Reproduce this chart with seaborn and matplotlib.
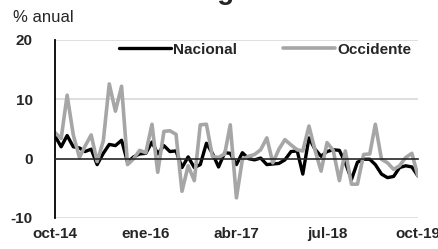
import numpy as np
import pandas as pd
import matplotlib
matplotlib.use("Agg")
import matplotlib.pyplot as plt
import seaborn as sns

# monthly series, oct-2014 .. oct-2019 (% anual)
nacional = [3.8, 2.0, 3.9, 2.0, 1.8, 1.2, 1.6, -1.0, 0.9, 2.4,
            2.2, 3.1, -0.6, 0.3, 0.8, 0.9, 2.8, 0.8, 2.2, 1.2,
            1.3, -1.5, 0.3, -1.5, -1.0, 2.6, 0.9, -1.4, 1.0, 0.9,
            -1.0, 1.0, 0.0, -0.2, 0.1, -1.0, -0.9, -0.8, -0.2, 1.2,
            1.3, -2.6, 3.5, 1.6, 0.4, 1.2, 1.5, 1.4, -0.7, -3.5,
            -0.6, -0.1, -0.1, -1.0, -2.6, -3.2, -3.0, -1.5, -1.2, -1.4,
            -2.9]
occidente = [4.4, 3.4, 10.7, 4.0, 0.2, 2.1, 4.0, -0.5, 3.0, 12.6,
             8.0, 12.2, -1.0, 0.0, 1.4, 1.0, 5.8, -2.3, 4.6, 4.7,
             4.1, -5.5, -1.2, -3.7, 5.7, 5.8, 0.4, 0.2, 0.8, 5.7,
             -6.6, -0.1, 0.4, 0.7, 1.5, 3.5, -0.7, 1.6, 3.2, 2.3,
             1.5, 1.3, 5.5, 1.5, -2.1, 2.7, 1.4, -3.7, 1.3, -4.3,
             -4.3, 0.7, 0.8, 5.8, -0.1, -0.7, -1.8, -1.2, 0.2, 0.9,
             -2.9]
tick_labels = ["oct-14", "ene-16", "abr-17", "jul-18", "oct-19"]
y_ticks = [-10, 0, 10, 20]

fechas = pd.date_range("2014-10-01", periods=len(nacional), freq="MS")
df = pd.DataFrame({
    "fecha": np.concatenate([fechas, fechas]),
    "valor": nacional + occidente,
    "serie": ["Nacional"] * len(nacional) + ["Occidente"] * len(occidente),
})

sns.set_style("white")
plt.rcParams["font.family"] = ["Liberation Sans", "DejaVu Sans"]

fig = plt.figure(figsize=(4.38, 2.49), dpi=100)
ax = fig.add_axes([0.1256, 0.1245, 0.954 - 0.1256, 0.8394 - 0.1245])

for y in [-10, 10, 20]:
    ax.axhline(y, color="#d9d9d9", lw=1.2, zorder=0)

sns.lineplot(data=df, x="fecha", y="valor", hue="serie",
             palette={"Nacional": "black", "Occidente": "#a6a6a6"},
             hue_order=["Nacional", "Occidente"],
             linewidth=2.4, ax=ax, legend=False)
ax.lines[-1].set_linewidth(2.6)

ax.set_xlim(fechas[0], fechas[-1])
ax.set_ylim(-10, 20)
ax.set_xlabel("")
ax.set_ylabel("")

# x axis sits on zero; set this before the labels (it resets the ticks)
ax.spines["bottom"].set_position(("data", 0))
ax.spines["bottom"].set_linewidth(1.2)
for side in ["top", "right"]:
    ax.spines[side].set_visible(False)
ax.spines["left"].set_color("black")
ax.spines["left"].set_linewidth(1.3)

ax.set_yticks(y_ticks)
ax.set_yticklabels([str(v) for v in y_ticks], fontweight="bold", fontsize=11)
ax.tick_params(axis="y", length=0, pad=16)

xt = fechas[::15]
ax.set_xticks(xt)
ax.set_xticklabels(tick_labels, fontweight="bold", fontsize=11)
ax.tick_params(axis="x", direction="in", length=3, width=1, color="black", pad=49)

handles = [plt.Line2D([], [], color="black", lw=2.4),
           plt.Line2D([], [], color="#a6a6a6", lw=2.6)]
leg = ax.legend(handles, ["Nacional", "Occidente"], ncol=2, frameon=False,
                loc="center right", bbox_to_anchor=(1.02, 0.945),
                handlelength=3.4, handletextpad=0.15, columnspacing=3.0,
                prop={"weight": "bold", "size": 11})

fig.text(13 / 438, 1 - 22 / 249, "% anual", fontsize=12, ha="left", va="baseline")
# title sits mostly above the canvas, only its lower edge shows
fig.text(0.5, 1 + 1 / 249, "Nacional vs Región Occidente", fontsize=20,
         fontweight="bold", ha="center", va="baseline")

fig.savefig("out.png", dpi=100)
